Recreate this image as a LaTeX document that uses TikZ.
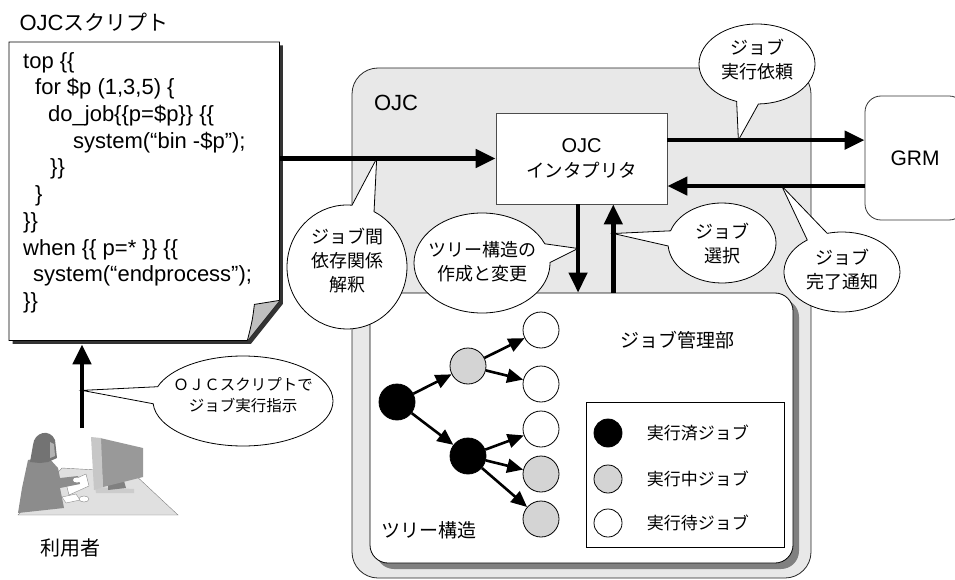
\documentclass[tikz,border=0pt]{standalone}
\usepackage{fontspec}
\setmainfont{Liberation Sans}
\newfontfamily\jp{Noto Sans CJK JP}
\usetikzlibrary{arrows.meta,shapes.callouts,shadows,calc,positioning}

\tikzset{
  bigarrow/.style={line width=4.5pt,-{Triangle[length=20pt,width=18pt]}},
  treearrow/.style={line width=2.6pt,-{Triangle[length=16pt,width=14pt]}},
  bubble/.style={ellipse callout,draw,fill=white,line width=0.8pt,
    callout pointer arc=22,inner sep=0pt},
  bubtext/.style={align=center,font=\jp\fontsize{18}{24}\selectfont},
  jlabel/.style={font=\jp\fontsize{19}{24}\selectfont},
  legtext/.style={font=\jp\fontsize{17}{20}\selectfont,anchor=west},
  codetext/.style={align=left,inner sep=0pt,font=\fontsize{22}{26.7}\selectfont},
  job/.style={circle,draw,line width=0.8pt,minimum size=36pt,inner sep=0pt},
  jobdone/.style={job,fill=black},
  jobrun/.style={job,fill=black!17},
  jobwait/.style={job,fill=white},
}

\begin{document}
\begin{tikzpicture}[x=1pt,y=-1pt]
\useasboundingbox (0,0) rectangle (955,580);
\clip (0,0) rectangle (955,580);

% OJC system frame
\node[draw=black!85,fill=black!9,rounded corners=26pt,line width=0.8pt,
  minimum width=459pt,minimum height=510pt] (ojc) at (581.5,323) {};
\node[font=\fontsize{22}{26}\selectfont] (ojclbl) at (396,103) {OJC};

% interpreter, job manager, GRM
\node[draw=black!70,fill=white,line width=0.8pt,minimum width=171pt,minimum height=91pt,
  align=center,font=\fontsize{20}{25}\selectfont] (interp) at (581.5,158.5)
  {OJC\\{\jp\fontsize{18.5}{25}\selectfont インタプリタ}};
\node[draw,fill=white,rounded corners=18pt,line width=0.8pt,
  minimum width=423pt,minimum height=270pt,
  drop shadow={shadow xshift=6pt,shadow yshift=-6pt,fill=black!50,opacity=1}] (mgr) at (581.5,428) {};
\node[draw=black!80,fill=white,rounded corners=16pt,line width=0.8pt,
  minimum width=100pt,minimum height=124pt,font=\fontsize{21}{25}\selectfont] (grm) at (915,158) {GRM};

\node[jlabel] (mgrlbl) at (677,340) {ジョブ管理部};
\node[jlabel] (treelbl) at (429,530) {ツリー構造};

% job tree
\node[jobdone] (j0) at (397,402) {};
\node[jobrun]  (j1) at (468,366) {};
\node[jobdone] (j2) at (468,456) {};
\node[jobwait] (l1) at (541,330) {};
\node[jobwait] (l2) at (541,384) {};
\node[jobwait] (l3) at (541,429) {};
\node[jobrun]  (l4) at (541,474) {};
\node[jobrun]  (l5) at (541,519) {};
\foreach \a/\b in {j0/j1,j0/j2,j1/l1,j1/l2,j2/l3,j2/l4,j2/l5}
  \draw[treearrow] (\a) -- (\b);

% legend
\node[draw,fill=white,line width=0.8pt,minimum width=198pt,minimum height=145pt] (legend) at (685,474.5) {};
\node[jobdone,minimum size=28pt] (kdone) at (608,433) {};
\node[jobrun,minimum size=28pt]  (krun)  at (608,479) {};
\node[jobwait,minimum size=28pt] (kwait) at (608,523) {};
\node[legtext,right=21pt of kdone] (tdone) {実行済ジョブ};
\node[legtext,right=21pt of krun]  (trun)  {実行中ジョブ};
\node[legtext,right=21pt of kwait] (twait) {実行待ジョブ};

% script sheet with folded corner
\node[font=\fontsize{22}{26}\selectfont,anchor=west] (scrtitle) at (16,22) {OJC{\jp\fontsize{21}{26}\selectfont スクリプト}};
\node[minimum width=270pt,minimum height=298pt,inner sep=0pt,anchor=north west] (scr) at (9,42) {};
\draw[fill=white,line width=0.8pt,
  drop shadow={shadow xshift=3.5pt,shadow yshift=-3.5pt,fill=black!80,opacity=1}]
  (scr.north west) -- (scr.north east) -- ([yshift=40pt]scr.south east)
  -- ([xshift=-32pt]scr.south east) -- (scr.south west) -- cycle;
\draw[fill=black!25,line width=0.8pt] ([yshift=40pt]scr.south east)
  .. controls ([xshift=-12pt,yshift=38pt]scr.south east) .. ([xshift=-25pt,yshift=36pt]scr.south east)
  .. controls ([xshift=-27pt,yshift=20pt]scr.south east) .. ([xshift=-32pt]scr.south east);
\node[codetext,anchor=north west] (code) at (23,52) {%
top \{\{\\
\hspace*{12pt}for \$p (1,3,5) \{\\
\hspace*{25pt}do\_job\{\{p=\$p\}\} \{\{\\
\hspace*{50pt}system(“bin -\$p”);\\
\hspace*{27pt}\}\}\\
\hspace*{12pt}\}\\
\}\}\\
when \{\{ p=* \}\} \{\{\\
\hspace*{10pt}system(“endprocess”);\\
\}\}};

% user
\begin{scope}[line width=0.4pt]
  \draw[fill=black!12,draw=black!50] (62,468) -- (132,472) -- (178,515) -- (18,515) -- cycle;
  \fill[black!20] (95,487) -- (134,489) -- (134,493) -- (96,493) -- cycle;
  \fill[black!50] (108,483) -- (124,481) -- (126,488) -- (108,490) -- cycle;
  \fill[black!40] (100,438) -- (143,448) -- (143,477) -- (103,487) -- cycle;
  \fill[black!22] (91,437) -- (101,438) -- (103,487) -- (94,490) -- cycle;
  \draw[fill=white,draw=black!45] (66,483) -- (86,474) -- (89,486) -- (69,495) -- cycle;
  \fill[black!45] (28,460) -- (48,457) -- (58,468) -- (60,478) -- (78,476) -- (80,484)
    -- (60,488) -- (64,508) -- (18,513) -- (22,488) -- cycle;
  \fill[black!55] (33,445) .. controls (34,432) and (50,428) .. (55,440)
    -- (57,458) -- (48,462) -- (40,463) -- (30,462) -- cycle;
  \fill[black!30] (50,442) -- (54,444) -- (55,456) -- (50,458) -- cycle;
  \fill[white] (77,480) ellipse (4 and 2.5);
  \draw[fill=white,draw=black!45] (62,497) -- (76,494) -- (80,500) -- (66,503) -- cycle;
  \draw[fill=white,draw=black!45] (84,499) ellipse (5 and 3);
\end{scope}
\node[jlabel,font=\jp\fontsize{20}{24}\selectfont] (user) at (70,548) {利用者};
\coordinate (usrtop) at (82,428);

% connectors
\coordinate (reqS)  at ($(interp.north east)!.3!(interp.south east)$);
\coordinate (doneE) at ($(interp.north east)!.8!(interp.south east)$);
\coordinate (dnS)   at ($(interp.south west)!.48!(interp.south east)$);
\coordinate (upE)   at ($(interp.south west)!.685!(interp.south east)$);
\draw[bigarrow] (interp.west -| scr.east) -- coordinate[pos=.45] (depTip) (interp.west);
\draw[bigarrow] (reqS) -- coordinate[pos=.36] (reqTip) (reqS -| grm.west);
\draw[bigarrow] (doneE -| grm.west) -- coordinate[pos=.42] (doneTip) (doneE);
\draw[bigarrow] (dnS) -- coordinate[pos=.5] (treeTip) (dnS |- mgr.north);
\draw[bigarrow] (upE |- mgr.north) -- coordinate[pos=.67] (selTip) (upE);
\draw[bigarrow] (usrtop) -- coordinate[pos=.45] (userTip) ([yshift=-4pt]scr.south -| usrtop);

% callouts
\node[bubble,minimum width=116pt,minimum height=80pt,callout absolute pointer={(reqTip)}] (creq) at (757,64) {};
\node[bubtext] (treq) at ([yshift=4pt]creq.center) {ジョブ\\実行依頼};
\node[bubble,minimum width=120pt,minimum height=124pt,callout absolute pointer={(depTip)}] (cdep) at (347,267) {};
\node[bubtext] (tdep) at ([yshift=6pt]cdep.center) {ジョブ間\\依存関係\\解釈};
\node[bubble,minimum width=136pt,minimum height=100pt,callout absolute pointer={(treeTip)}] (ctree) at (482,263) {};
\node[bubtext] (ttree) at ([yshift=1pt]ctree.center) {ツリー構造の\\作成と変更};
\node[bubble,minimum width=108pt,minimum height=80pt,callout absolute pointer={(selTip)}] (csel) at (722,243) {};
\node[bubtext] (tsel) at ([yshift=-1pt]csel.center) {ジョブ\\選択};
\node[bubble,minimum width=116pt,minimum height=80pt,callout absolute pointer={(doneTip)}] (cdone) at (842,272) {};
\node[bubtext] (tdone2) at ([yshift=2pt]cdone.center) {ジョブ\\完了通知};
\node[bubble,minimum width=180pt,minimum height=90pt,callout absolute pointer={(userTip)}] (cuser) at (243,401) {};
\node[bubtext,font=\jp\fontsize{15.5}{21}\selectfont] (tuser) at ([yshift=6pt]cuser.center) {ＯＪＣスクリプトで\\ジョブ実行指示};
\end{tikzpicture}
\end{document}
